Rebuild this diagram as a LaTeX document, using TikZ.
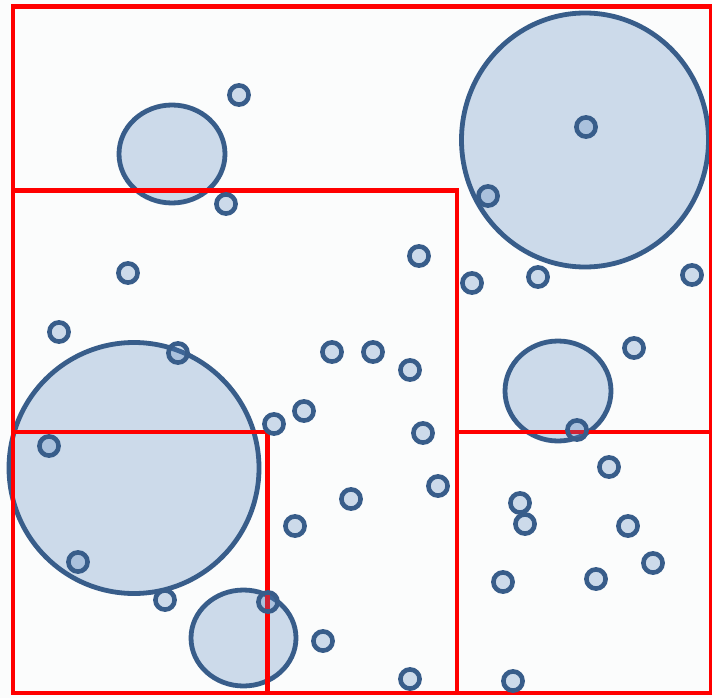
\documentclass[tikz,border=0pt]{standalone}
\definecolor{cstroke}{HTML}{385D8A}
\definecolor{cfill}{HTML}{4F81BD}
\definecolor{bgc}{HTML}{FBFCFC}
\begin{document}
\begin{tikzpicture}[x=1pt,y=-1pt,
  bigc/.style={draw=cstroke, line width=4.8pt, fill=cfill, fill opacity=0.27, draw opacity=1},
  smallc/.style={draw=cstroke, line width=4.6pt, fill=cfill, fill opacity=0.27, draw opacity=1},
  redbox/.style={draw=red, line width=4.9pt}]
\useasboundingbox (0,0) rectangle (712,698);
\clip (0,0) rectangle (712,698);
\fill[bgc] (0,0) rectangle (712,698);
% large shapes
\draw[bigc] (172,154) ellipse [x radius=53, y radius=49];
\draw[bigc] (585,140) ellipse [x radius=123.5, y radius=127];
\draw[bigc] (134,468) ellipse [x radius=125, y radius=125.5];
\draw[bigc] (558,391) ellipse [x radius=53, y radius=50];
\draw[bigc] (243.5,638) ellipse [x radius=52.5, y radius=48];
% red boxes
\draw[redbox] (13,6.5) rectangle (711,693);
\draw[redbox] (13,190.5) rectangle (457,693);
\draw[redbox] (13,432) rectangle (267.5,693);
\draw[redbox] (457,432) rectangle (711,693);
% small circles
\foreach \p in {(239,95),(226,204),(128,273),(59,332),(178,353),(419,256),
  (332,352),(373,352),(410,370),(304,411),(274,424),(423,433),(49,446),
  (438,486),(351,499),(295,526),(78,562),(165,600),(268,602),(323,641),
  (410,679),(513,681),(586,127),(488,196),(472,283),(538,277),(692,275),
  (634,348),(577,430),(609,467),(520,503),(525,524),(628,526),(653,563),
  (503,582),(596,579)}
  \draw[smallc] \p circle [radius=9.6];
\end{tikzpicture}
\end{document}
